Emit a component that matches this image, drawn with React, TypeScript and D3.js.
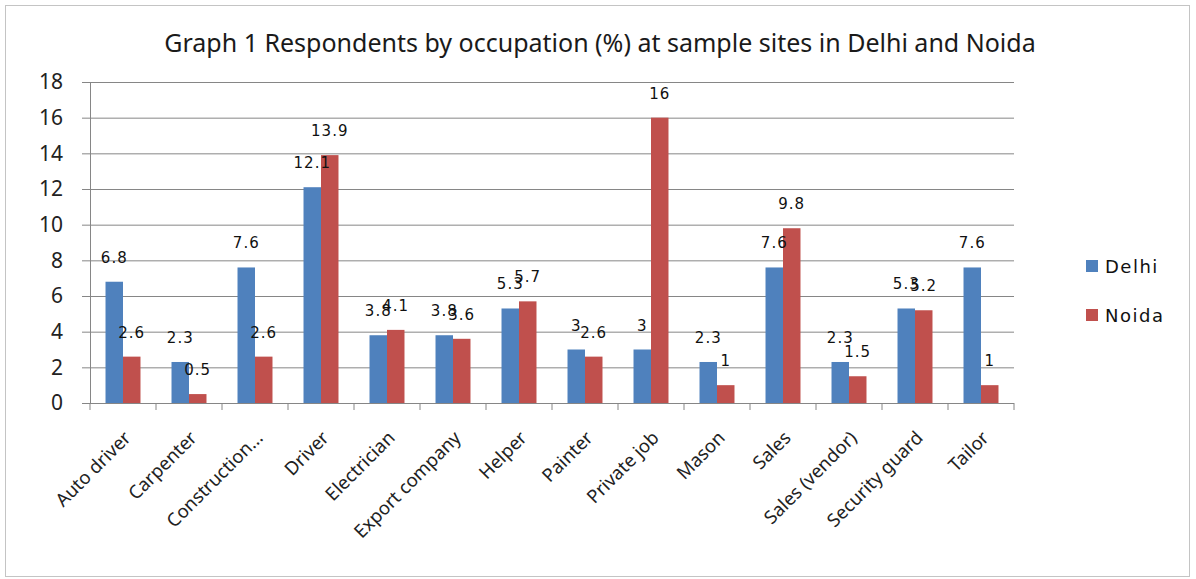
import React, { useEffect, useRef } from "react";
import * as d3 from "d3";

const categories = [
  "Auto driver", "Carpenter", "Construction...", "Driver", "Electrician",
  "Export company", "Helper", "Painter", "Private job", "Mason", "Sales",
  "Sales (vendor)", "Security guard", "Tailor",
];
const delhi = [6.8, 2.3, 7.6, 12.1, 3.8, 3.8, 5.3, 3, 3, 2.3, 7.6, 2.3, 5.3, 7.6];
const noida = [2.6, 0.5, 2.6, 13.9, 4.1, 3.6, 5.7, 2.6, 16, 1, 9.8, 1.5, 5.2, 1];
const seriesNames = ["Delhi", "Noida"];
const colors = ["#4F81BD", "#C0504D"];
const yTicks = [0, 2, 4, 6, 8, 10, 12, 14, 16, 18];

const W = 1196;
const H = 579;
const left = 90, right = 1014, top = 82, bottom = 403;

export default function App() {
  const ref = useRef<SVGSVGElement>(null);

  useEffect(() => {
    const svg = d3.select(ref.current);
    svg.selectAll("*").remove();

    const x0 = d3.scaleBand().domain(categories).range([left, right])
      .paddingInner(0.47).paddingOuter(0.235);
    const x1 = d3.scaleBand().domain(seriesNames).range([0, x0.bandwidth()]);
    const y = d3.scaleLinear().domain([0, 18]).range([bottom, top]);
    const step = x0.step();

    svg.append("rect")
      .attr("x", 5.5).attr("y", 5.5).attr("width", 1184).attr("height", 571)
      .attr("fill", "white").attr("stroke", "#c4c4c4");

    svg.append("text")
      .attr("x", 600).attr("y", 52)
      .attr("text-anchor", "middle")
      .attr("font-family", "'Noto Sans'")
      .attr("font-size", 25)
      .attr("fill", "#1a1a1a")
      .text("Graph 1 Respondents by occupation (%) at sample sites in Delhi and Noida");

    // gridlines + y axis
    const yAxis = svg.append("g").attr("transform", `translate(${left},0)`)
      .call(d3.axisLeft(y).tickValues(yTicks).tickSize(8).tickPadding(6).tickFormat(d3.format("d")));
    yAxis.select(".domain").attr("stroke", "#868686");
    yAxis.selectAll(".tick line").attr("stroke", "#868686");
    yAxis.selectAll(".tick text")
      .attr("font-family", "'Noto Sans'").attr("font-size", 21).attr("fill", "#222")
      .attr("x", -27);

    svg.append("g").selectAll("line")
      .data(yTicks.filter(d => d > 0))
      .join("line")
      .attr("x1", left).attr("x2", right)
      .attr("y1", d => y(d) + 0.5).attr("y2", d => y(d) + 0.5)
      .attr("stroke", "#868686");

    // bars
    const groups = svg.append("g").selectAll("g")
      .data(categories)
      .join("g")
      .attr("transform", d => `translate(${x0(d)},0)`);

    seriesNames.forEach((s, si) => {
      const vals = si === 0 ? delhi : noida;
      groups.append("rect")
        .attr("x", x1(s)!)
        .attr("width", x1.bandwidth())
        .attr("y", (_, i) => y(vals[i]))
        .attr("height", (_, i) => bottom - y(vals[i]))
        .attr("fill", colors[si]);
    });

    // x axis
    svg.append("line")
      .attr("x1", left).attr("x2", right)
      .attr("y1", bottom + 0.5).attr("y2", bottom + 0.5)
      .attr("stroke", "#868686");
    svg.append("g").selectAll("line")
      .data(d3.range(categories.length + 1))
      .join("line")
      .attr("x1", i => left + i * step).attr("x2", i => left + i * step)
      .attr("y1", bottom).attr("y2", bottom + 7)
      .attr("stroke", "#868686");

    svg.append("g").selectAll("text")
      .data(categories)
      .join("text")
      .attr("transform", d => `translate(${x0(d)! + x0.bandwidth() / 2 + 9},${bottom + 36}) rotate(-45)`)
      .attr("text-anchor", "end")
      .attr("font-family", "'Noto Sans'")
      .attr("font-size", 18.5)
      .attr("fill", "#222")
      .text(d => d);

    // data labels
    seriesNames.forEach((s, si) => {
      const vals = si === 0 ? delhi : noida;
      groups.append("text")
        .attr("x", x1(s)! + x1.bandwidth() / 2)
        .attr("y", (_, i) => y(vals[i]) - 19)
        .attr("text-anchor", "middle")
        .attr("font-family", "'DejaVu Sans'")
        .attr("font-size", 15)
        .attr("letter-spacing", 1)
        .attr("fill", "#111")
        .text((_, i) => String(vals[i]));
    });

    // legend
    const legend = svg.append("g").selectAll("g")
      .data(seriesNames)
      .join("g")
      .attr("transform", (_, i) => `translate(1086,${260 + i * 49})`);
    legend.append("rect").attr("width", 12).attr("height", 12).attr("fill", (_, i) => colors[i]);
    legend.append("text")
      .attr("x", 19).attr("y", 13)
      .attr("font-family", "'DejaVu Sans'")
      .attr("font-size", 18)
      .attr("letter-spacing", 1.5)
      .attr("fill", "#111")
      .text(d => d);
  }, []);

  return (
    <svg ref={ref} width={W} height={H}
      style={{ position: "absolute", left: 0, top: 0, background: "white" }} />
  );
}
